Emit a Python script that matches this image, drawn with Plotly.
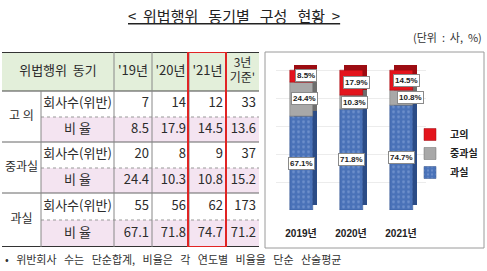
import plotly.graph_objects as go

# ---------------- data ----------------
years = ['2019년', '2020년', '2021년']
share_goui = [8.5, 17.9, 14.5]      # 고의
share_jung = [24.4, 10.3, 10.8]     # 중과실
share_gwasil = [67.1, 71.8, 74.7]   # 과실

table_header = ["'19년", "'20년", "'21년", "3년<br>기준'"]
categories = ['고 의', '중과실', '과실']
sub_labels = ['회사수(위반)', '비 율']
count_goui = [7, 14, 12, 33]
ratio_goui = [8.5, 17.9, 14.5, 13.6]
count_jung = [20, 8, 9, 37]
ratio_jung = [24.4, 10.3, 10.8, 15.2]
count_gwasil = [55, 56, 62, 173]
ratio_gwasil = [67.1, 71.8, 74.7, 71.2]

# ---------------- layout constants ----------------
W, H = 487, 271
col_edges = [2, 41, 114, 152, 189, 226, 259]
row_edges = [52, 91, 117, 142, 168, 193, 220, 247]
KR = "Noto Sans CJK KR, sans-serif"
NUM = "Liberation Sans Narrow, Arial Narrow, Noto Sans CJK KR, sans-serif"
TXT = '#2b2b2b'
SP = '&nbsp;'

fig = go.Figure()

# ---------------- table (on x2/y2, units = pixels) ----------------
GREEN, PINK = '#e3efda', '#f4e4f1'
z = [[1] * 6]
for r in range(6):
    if r % 2 == 1:
        z.append([0] + [2] * 5)
    else:
        z.append([0] * 6)
fig.add_trace(go.Heatmap(
    x=col_edges, y=row_edges, z=z, zmin=0, zmax=2,
    colorscale=[[0, 'white'], [0.33, 'white'], [0.33, GREEN], [0.67, GREEN],
                [0.67, PINK], [1, PINK]],
    showscale=False, hoverinfo='skip', xaxis='x2', yaxis='y2'))

def mid(a, b):
    return (a + b) / 2

# header texts
hx = [mid(col_edges[0], col_edges[2])] + [mid(col_edges[i], col_edges[i + 1]) for i in range(2, 6)]
hy = [mid(row_edges[0], row_edges[1])] * 5
fig.add_trace(go.Scatter(
    x=hx[:4], y=hy[:4], mode='text', text=['위법행위' + SP * 2 + '동기'] + table_header[:3],
    textfont=dict(family=NUM, size=13, color=TXT), textposition='middle center',
    hoverinfo='skip', showlegend=False, cliponaxis=False, xaxis='x2', yaxis='y2'))
fig.add_trace(go.Scatter(
    x=hx[4:], y=hy[4:], mode='text', text=table_header[3:],
    textfont=dict(family=NUM, size=12, color=TXT), textposition='middle center',
    hoverinfo='skip', showlegend=False, cliponaxis=False, xaxis='x2', yaxis='y2'))

# category labels (merged cells)
cy = [mid(row_edges[1 + 2 * g], row_edges[3 + 2 * g]) for g in range(3)]
fig.add_trace(go.Scatter(
    x=[mid(col_edges[0], col_edges[1])] * 3, y=cy, mode='text', text=categories,
    textfont=dict(family=KR, size=12, color=TXT), textposition='middle center',
    hoverinfo='skip', showlegend=False, cliponaxis=False, xaxis='x2', yaxis='y2'))

# sub labels
sy = [mid(row_edges[r], row_edges[r + 1]) for r in range(1, 7)]
fig.add_trace(go.Scatter(
    x=[mid(col_edges[1], col_edges[2])] * 6, y=sy, mode='text',
    text=sub_labels * 3,
    textfont=dict(family=NUM, size=13, color=TXT), textposition='middle center',
    hoverinfo='skip', showlegend=False, cliponaxis=False, xaxis='x2', yaxis='y2'))

# values
rows_vals = [count_goui, ratio_goui, count_jung, ratio_jung, count_gwasil, ratio_gwasil]
vx, vy, vt = [], [], []
for r, vals in enumerate(rows_vals):
    for c, v in enumerate(vals):
        vx.append(col_edges[c + 3] - 3)
        vy.append(sy[r])
        vt.append(str(v))
fig.add_trace(go.Scatter(
    x=vx, y=vy, mode='text', text=vt,
    textfont=dict(family=NUM, size=13, color=TXT), textposition='middle left',
    hoverinfo='skip', showlegend=False, cliponaxis=False, xaxis='x2', yaxis='y2'))

shapes = []
def tline(x0, y0, x1, y1, color='#555', width=1, dash='solid'):
    shapes.append(dict(type='line', xref='x2', yref='y2', x0=x0, y0=y0, x1=x1, y1=y1,
                       line=dict(color=color, width=width, dash=dash)))

tline(col_edges[0], row_edges[0], col_edges[-1], row_edges[0], '#333', 2)
tline(col_edges[0], row_edges[1], col_edges[-1], row_edges[1], '#444', 1)
for r in (3, 5):
    tline(col_edges[0], row_edges[r], col_edges[-1], row_edges[r], '#666', 1)
for r in (2, 4, 6):
    tline(col_edges[1], row_edges[r], col_edges[-1], row_edges[r], '#999', 1, 'dot')
tline(col_edges[0], row_edges[-1], col_edges[-1], row_edges[-1], '#333', 2)
tline(col_edges[1], row_edges[1], col_edges[1], row_edges[-1], '#888', 1)
for c in range(2, 6):
    tline(col_edges[c], row_edges[0], col_edges[c], row_edges[-1], '#888', 1)
# red highlight box around '21
shapes.append(dict(type='rect', xref='x2', yref='y2', x0=col_edges[4] - 1, x1=col_edges[5],
                   y0=row_edges[0], y1=row_edges[-1], line=dict(color='#e02424', width=2)))

# chart border
shapes.append(dict(type='rect', xref='paper', yref='paper', x0=265 / W, x1=484 / W,
                   y0=1 - 248 / H, y1=1 - 52 / H, line=dict(color='#9a9a9a', width=1)))

# ---------------- stacked 3D-ish bar chart ----------------
series = [
    ('과실', share_gwasil, '#4a72b8', '#2c4c86', 3),
    ('중과실', share_jung, '#a8a8a8', '#6e6e6e', 2),
    ('고의', share_goui, '#e3141c', '#9c0c12', 1),
]
bw = 0.46
depth_x = 0.08
depth_y = 3
bases = [0, 0, 0]
base_list = []
for name, vals, col, dark, rank in series:
    base_list.append(list(bases))
    bases = [b + v for b, v in zip(bases, vals)]

# shadow (side/top faces)
for (name, vals, col, dark, rank), base in zip(series, base_list):
    fig.add_trace(go.Bar(
        x=years, y=vals, base=[b + depth_y for b in base], width=bw, offset=-bw / 2 + depth_x,
        marker=dict(color=dark, line=dict(width=0)), showlegend=False, hoverinfo='skip'))

# front faces
for (name, vals, col, dark, rank), base in zip(series, base_list):
    marker = dict(color=col, line=dict(width=0.5, color=dark))
    if name == '과실':
        marker['pattern'] = dict(shape='.', fgcolor='#8eaadb', size=5, solidity=0.25)
    fig.add_trace(go.Bar(
        x=years, y=vals, base=base, width=bw, offset=-bw / 2, name=name,
        marker=marker, legendrank=rank, hoverinfo='skip'))

# data labels
annotations = []
label_xshift = {'과실': 0, '중과실': 3, '고의': 5}
for (name, vals, col, dark, rank), base in zip(series, base_list):
    for i, (v, b) in enumerate(zip(vals, base)):
        annotations.append(dict(
            x=years[i], y=b + v / 2, xref='x', yref='y', text=f'{v}%', showarrow=False,
            xshift=label_xshift[name] + (6 if (name == '중과실' and i == 2) else 0),
            font=dict(family='Liberation Sans, Arial, sans-serif', size=8, color='#222',
                      weight='bold'),
            bgcolor='white', bordercolor='#8a8a8a', borderwidth=1, borderpad=1))

# title, unit, footnote
title_txt = ('&lt;' + SP * 2 + (SP * 3).join(['위법행위', '동기별', '구성', '현황'])
             + SP * 2 + '&gt;')
annotations.append(dict(x=234 / W, y=1 - 15 / H, xref='paper', yref='paper',
                        text='<u>' + title_txt + '</u>',
                        showarrow=False, xanchor='center', yanchor='middle',
                        font=dict(family=KR, size=15, color='#222')))
annotations.append(dict(x=484 / W, y=1 - 37 / H, xref='paper', yref='paper',
                        text='(단위' + SP * 2 + ':' + SP * 2 + '사,' + SP * 2 + '%)',
                        showarrow=False, xanchor='right', yanchor='middle',
                        font=dict(family=KR, size=11, color='#333')))
foot = '•' + SP * 3 + (SP * 3).join(['위반회사', '수는', '단순합계,', '비율은', '각', '연도별',
                                      '비율을', '단순', '산술평균'])
annotations.append(dict(x=3 / W, y=1 - 259 / H, xref='paper', yref='paper',
                        text=foot, showarrow=False, xanchor='left', yanchor='middle',
                        font=dict(family=KR, size=11, color='#333')))

ytop = 100 + depth_y + 1
fig.update_layout(
    width=W, height=H, margin=dict(l=0, r=0, t=0, b=0),
    paper_bgcolor='white', plot_bgcolor='rgba(0,0,0,0)',
    barmode='overlay', bargap=0,
    shapes=shapes, annotations=annotations,
    xaxis=dict(domain=[276 / W, 426 / W], type='category', showgrid=False, zeroline=False,
               showline=False, ticks='', ticklabelstandoff=16,
               tickfont=dict(family='Liberation Sans, Arial, Noto Sans CJK KR, sans-serif',
                             size=10, color='#222', weight='bold')),
    yaxis=dict(domain=[1 - 210 / H, 1 - (210 - 1.4 * ytop) / H], range=[0, ytop],
               showticklabels=False, showgrid=True, gridcolor='#ececec',
               tickvals=[20, 40, 60, 80, 100], zeroline=False, showline=False),
    xaxis2=dict(domain=[col_edges[0] / W, col_edges[-1] / W],
                range=[col_edges[0], col_edges[-1]], visible=False, anchor='y2'),
    yaxis2=dict(domain=[1 - row_edges[-1] / H, 1 - row_edges[0] / H],
                range=[row_edges[-1], row_edges[0]], visible=False, anchor='x2'),
    legend=dict(x=410 / W, y=1 - 120 / H, xanchor='left', yanchor='top',
                bgcolor='rgba(0,0,0,0)', itemwidth=30, tracegroupgap=4,
                font=dict(family=KR, size=10, color='#222', weight='bold')),
    showlegend=True,
)

fig.write_html('out.html')
